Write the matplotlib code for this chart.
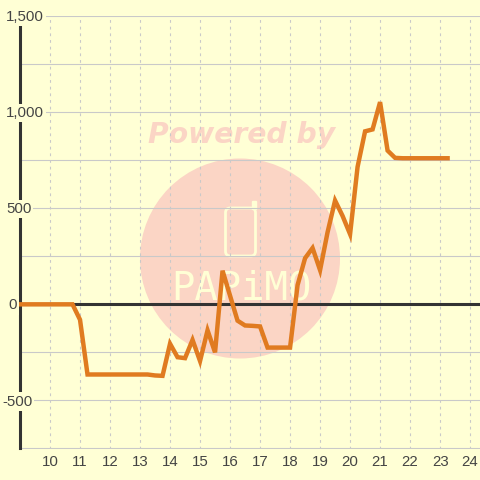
import matplotlib
matplotlib.use('Agg')
from matplotlib import pyplot as plt
from matplotlib.patches import Circle, FancyBboxPatch, Rectangle

hours = [9, 9.25, 9.5, 9.75, 10, 10.25, 10.5, 10.75,
         11, 11.25, 11.5, 11.75, 12, 12.25, 12.5, 12.75,
         13, 13.25, 13.5, 13.75, 14, 14.25, 14.5, 14.75,
         15, 15.25, 15.5, 15.75, 16, 16.25, 16.5, 16.75,
         17, 17.25, 17.5, 17.75, 18, 18.25, 18.5, 18.75,
         19, 19.25, 19.5, 19.75, 20, 20.25, 20.5, 20.75,
         21, 21.25, 21.5, 21.75, 22, 22.25, 22.5, 22.75,
         23, 23.25]
values = [0, 0, 0, 0, 0, 0, 0, 0,
          -80, -365, -365, -365, -365, -365, -365, -365,
          -365, -365, -370, -372, -205, -275, -280, -185,
          -295, -135, -250, 175, 45, -85, -110, -112,
          -115, -225, -225, -225, -225, 100, 240, 293,
          178, 375, 540, 460, 365, 715, 900, 910,
          1052, 800, 762, 760, 760, 760, 760, 760,
          760, 760]

x_ticks = [10, 11, 12, 13, 14, 15, 16, 17, 18, 19, 20, 21, 22, 23, 24]
y_major = [-500, 0, 500, 1000, 1500]
y_labels = ['-500', '0', '500', '1,000', '1,500']
y_minor = [-750, -250, 250, 750, 1250]

bg = '#ffffd5'
pink = '#fbd5c5'
grey = '#c9c9c9'
plt.rcParams['font.family'] = ['Liberation Sans', 'DejaVu Sans']

fig = plt.figure(figsize=(4.8, 4.8), dpi=100, facecolor=bg)


def fx(px):
    return px / 480


def fy(py):
    return 1 - py / 480


# watermark sits behind the axes
fig.add_artist(Circle((fx(240), fy(258.5)), 100 / 480, transform=fig.transFigure,
                      fc=pink, ec='none', zorder=-2))
fig.text(fx(241.5), fy(135), 'Powered by', family='DejaVu Sans', weight='bold',
         style='italic', size=20.3, color=pink, ha='center', va='center', zorder=-2)
fig.add_artist(FancyBboxPatch((fx(225.5), fy(256)), 30 / 480, 48 / 480, transform=fig.transFigure,
                              boxstyle='round,pad=0,rounding_size=0.01',
                              fc='none', ec=bg, lw=2, zorder=-1))
fig.add_artist(Rectangle((fx(252), fy(209)), 4 / 480, 8 / 480, transform=fig.transFigure,
                         fc=bg, ec=bg, lw=1, zorder=-1))
fig.text(fx(241), fy(289), 'PAPiMO', family='DejaVu Sans Mono', size=28,
         color=bg, ha='center', va='center', zorder=-1)

ax = fig.add_axes([20 / 480, 1 - 448.5 / 480, 460 / 480, 432.5 / 480])
ax.set_facecolor('none')
ax.set_xlim(9, 24.33)
ax.set_ylim(-750, 1500)

ax.set_xticks(x_ticks)
ax.set_yticks(y_major)
ax.set_yticks(y_minor, minor=True)
ax.grid(axis='x', color=grey, lw=0.8, ls=(0, (2.5, 3.5)), zorder=1)
ax.grid(axis='y', which='both', color=grey, lw=0.8, zorder=1)
ax.tick_params(which='both', length=0)
ax.tick_params(axis='x', labelsize=10.8, labelcolor='#444444', pad=4.5)
ax.set_yticklabels([])

for s in ['top', 'right', 'bottom']:
    ax.spines[s].set_visible(False)
ax.spines['left'].set_linewidth(2.2)
ax.spines['left'].set_color('#333333')

ax.axhline(0, color='#333333', lw=2.2, zorder=2)
ax.plot(hours, values, color='#e07b20', lw=3.2, solid_joinstyle='miter',
        solid_capstyle='projecting', clip_on=False, zorder=3)

# y labels are boxed, so they cut the axis line and the grid
label_left = {'-500': 2, '0': 8, '500': 6, '1,000': 6, '1,500': 6}
trans = ax.get_yaxis_transform()
for v, lab in zip(y_major, y_labels):
    ax.text((label_left[lab] - 20) / 460, v - 6, lab, transform=trans, fontsize=10.8,
            color='#444444', ha='left', va='center', clip_on=False, zorder=5,
            bbox=dict(fc=bg, ec='none', pad=1.5))

fig.savefig('out.png', dpi=100, facecolor=bg)
